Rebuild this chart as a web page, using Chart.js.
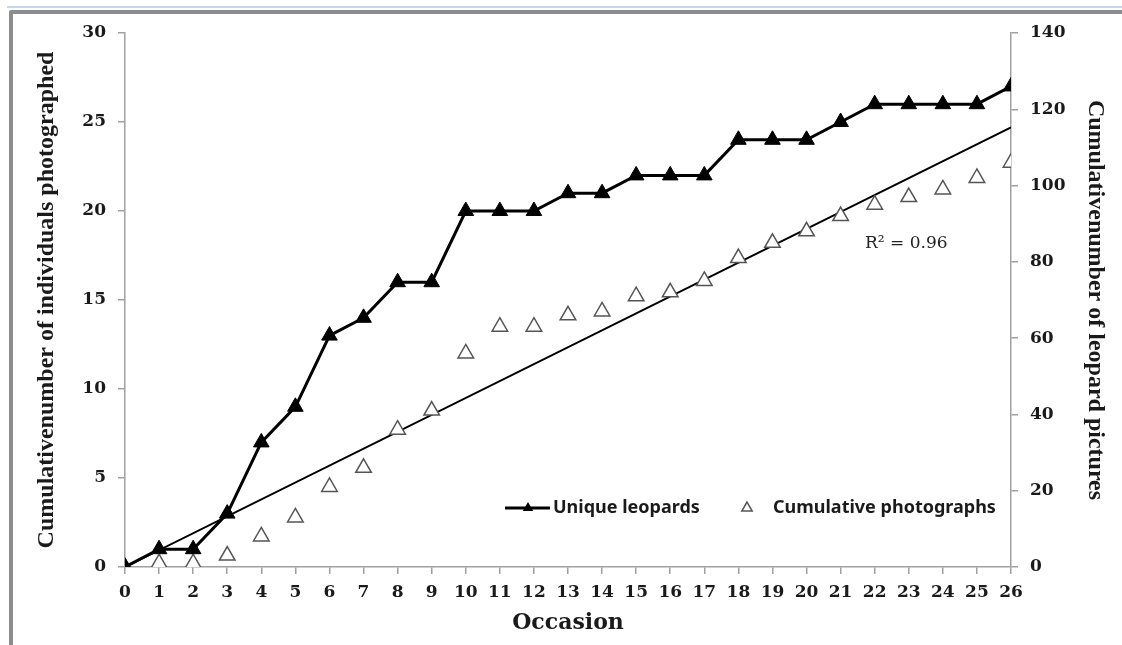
<!DOCTYPE html>
<html lang="en">
<head>
    <meta charset="UTF-8">
    <title>Leopards</title>
    <script src="https://cdn.jsdelivr.net/npm/chart.js"></script>
    <style>
        body {
            margin: 0;
            background: #fff;
        }

        #wrap {
            position: relative;
            width: 1122px;
            height: 645px;
            overflow: hidden;
        }

        #blue-line {
            position: absolute;
            left: 7px;
            top: 6px;
            width: 1115px;
            height: 2px;
            background: #c9d5ea;
        }

        #frame {
            position: absolute;
            left: 9px;
            top: 10px;
            width: 1200px;
            height: 700px;
            border-top: 4px solid #8c8c8c;
            border-left: 4px solid #8c8c8c;
            border-top-left-radius: 3px;
        }

        canvas {
            position: absolute;
            left: 0;
            top: 0;
        }
    </style>
</head>
<body>
    <div id="wrap">
        <div id="blue-line"></div>
        <div id="frame"></div>
        <canvas id="chart" width="1122" height="645"></canvas>
    </div>

    <script>
        const occasions = [0, 1, 2, 3, 4, 5, 6, 7, 8, 9, 10, 11, 12, 13, 14, 15, 16, 17, 18, 19, 20, 21, 22, 23, 24, 25, 26];
        const uniqueLeopards = [0, 1, 1, 3, 7, 9, 13, 14, 16, 16, 20, 20, 20, 21, 21, 22, 22, 22, 24, 24, 24, 25, 26, 26, 26, 26, 27];
        const cumulativePhotos = [0, 1, 1, 3, 8, 13, 21, 26, 36, 41, 56, 63, 63, 66, 67, 71, 72, 75, 81, 85, 88, 92, 95, 97, 99, 102, 106];
        const trendX = [0, 26];
        const trendY = [0, 24.7];

        const leftTicks = [0, 5, 10, 15, 20, 25, 30];
        const rightTicks = [0, 20, 40, 60, 80, 100, 120, 140];

        const serifBold = (size) => ({ family: 'DejaVu Serif', size: size, weight: 'bold' });
        const axisGray = '#a0a0a0';

        // legend and R² text
        const extras = {
            id: 'extras',
            afterDraw(chart) {
                const c = chart.ctx;
                c.save();
                const ly = 508;

                // Unique leopards
                c.strokeStyle = '#000';
                c.lineWidth = 3;
                c.beginPath();
                c.moveTo(505, ly);
                c.lineTo(550, ly);
                c.stroke();
                tri(c, 528, ly, 6, true);

                // Cumulative photographs
                tri(c, 747, ly, 6, false);

                c.fillStyle = '#1a1a1a';
                c.font = 'bold 18px "Noto Sans"';
                c.textBaseline = 'middle';
                c.textAlign = 'left';
                c.fillText('Unique leopards', 553, ly);
                c.fillText('Cumulative photographs', 773, ly);

                c.font = '17px "DejaVu Serif"';
                c.fillStyle = '#222';
                c.fillText('R² = 0.96', 865, 244);
                c.restore();
            }
        };

        function tri(c, x, y, r, filled) {
            c.beginPath();
            c.moveTo(x, y - r);
            c.lineTo(x + r * 0.866, y + r * 0.5);
            c.lineTo(x - r * 0.866, y + r * 0.5);
            c.closePath();
            if (filled) {
                c.fillStyle = '#000';
                c.fill();
            } else {
                c.fillStyle = '#fff';
                c.fill();
                c.strokeStyle = '#555';
                c.lineWidth = 1.5;
                c.stroke();
            }
        }

        const ctx = document.getElementById('chart').getContext('2d');
        const chart = new Chart(ctx, {
            type: 'line',
            data: {
                datasets: [{
                    label: 'Unique leopards',
                    data: occasions.map((x, i) => ({ x: x, y: uniqueLeopards[i] })),
                    yAxisID: 'y',
                    borderColor: '#000',
                    backgroundColor: '#000',
                    borderWidth: 3,
                    pointStyle: 'triangle',
                    pointRadius: 9,
                    pointBorderWidth: 1,
                    tension: 0,
                    order: 1
                }, {
                    label: 'Trend',
                    data: trendX.map((x, i) => ({ x: x, y: trendY[i] })),
                    yAxisID: 'y',
                    borderColor: '#000',
                    borderWidth: 2,
                    pointRadius: 0,
                    order: 3
                }, {
                    label: 'Cumulative photographs',
                    data: occasions.map((x, i) => ({ x: x, y: cumulativePhotos[i] })),
                    yAxisID: 'y2',
                    showLine: false,
                    borderColor: '#555',
                    backgroundColor: '#fff',
                    pointStyle: 'triangle',
                    pointRadius: 9,
                    pointBorderWidth: 1.5,
                    order: 2
                }]
            },
            options: {
                responsive: false,
                animation: false,
                layout: {
                    padding: { left: 20, top: 33, right: 0, bottom: 0 }
                },
                plugins: {
                    legend: { display: false },
                    tooltip: { enabled: false }
                },
                scales: {
                    x: {
                        type: 'linear',
                        position: 'bottom',
                        min: 0,
                        max: 26,
                        afterBuildTicks: (s) => { s.ticks = occasions.map(v => ({ value: v })); },
                        afterFit: (s) => { s.height = 78; },
                        ticks: {
                            font: serifBold(17),
                            color: '#1a1a1a',
                            padding: 8,
                            maxRotation: 0,
                            autoSkip: false
                        },
                        grid: {
                            drawOnChartArea: false,
                            tickLength: 7,
                            color: axisGray,
                            lineWidth: 1.5
                        },
                        border: { color: axisGray, width: 1.5 },
                        title: {
                            display: true,
                            text: 'Occasion',
                            font: serifBold(22),
                            color: '#1a1a1a',
                            padding: { top: 0, bottom: 9 }
                        }
                    },
                    y: {
                        position: 'left',
                        min: 0,
                        max: 30,
                        afterBuildTicks: (s) => { s.ticks = leftTicks.map(v => ({ value: v })); },
                        afterFit: (s) => { s.width = 105; },
                        ticks: {
                            font: serifBold(17),
                            color: '#1a1a1a',
                            padding: 12
                        },
                        grid: {
                            drawOnChartArea: false,
                            tickLength: 7,
                            color: axisGray,
                            lineWidth: 1.5
                        },
                        border: { color: axisGray, width: 1.5 },
                        title: {
                            display: true,
                            text: 'Cumulativenumber of individuals photographed',
                            font: { family: 'Liberation Serif', size: 24, weight: 'bold' },
                            color: '#1a1a1a',
                            padding: { top: 12, bottom: 0 }
                        }
                    },
                    y2: {
                        position: 'right',
                        min: 0,
                        max: 140,
                        afterBuildTicks: (s) => { s.ticks = rightTicks.map(v => ({ value: v })); },
                        afterFit: (s) => { s.width = 111; },
                        ticks: {
                            font: serifBold(17),
                            color: '#1a1a1a',
                            padding: 12
                        },
                        grid: {
                            drawOnChartArea: false,
                            tickLength: 7,
                            color: axisGray,
                            lineWidth: 1.5
                        },
                        border: { color: axisGray, width: 1.5 },
                        title: {
                            display: true,
                            text: 'Cumulativenumber of leopard pictures',
                            font: { family: 'Liberation Serif', size: 24, weight: 'bold' },
                            color: '#1a1a1a',
                            padding: { top: 12, bottom: 0 }
                        }
                    }
                }
            },
            plugins: [extras]
        });
    </script>
</body>
</html>
